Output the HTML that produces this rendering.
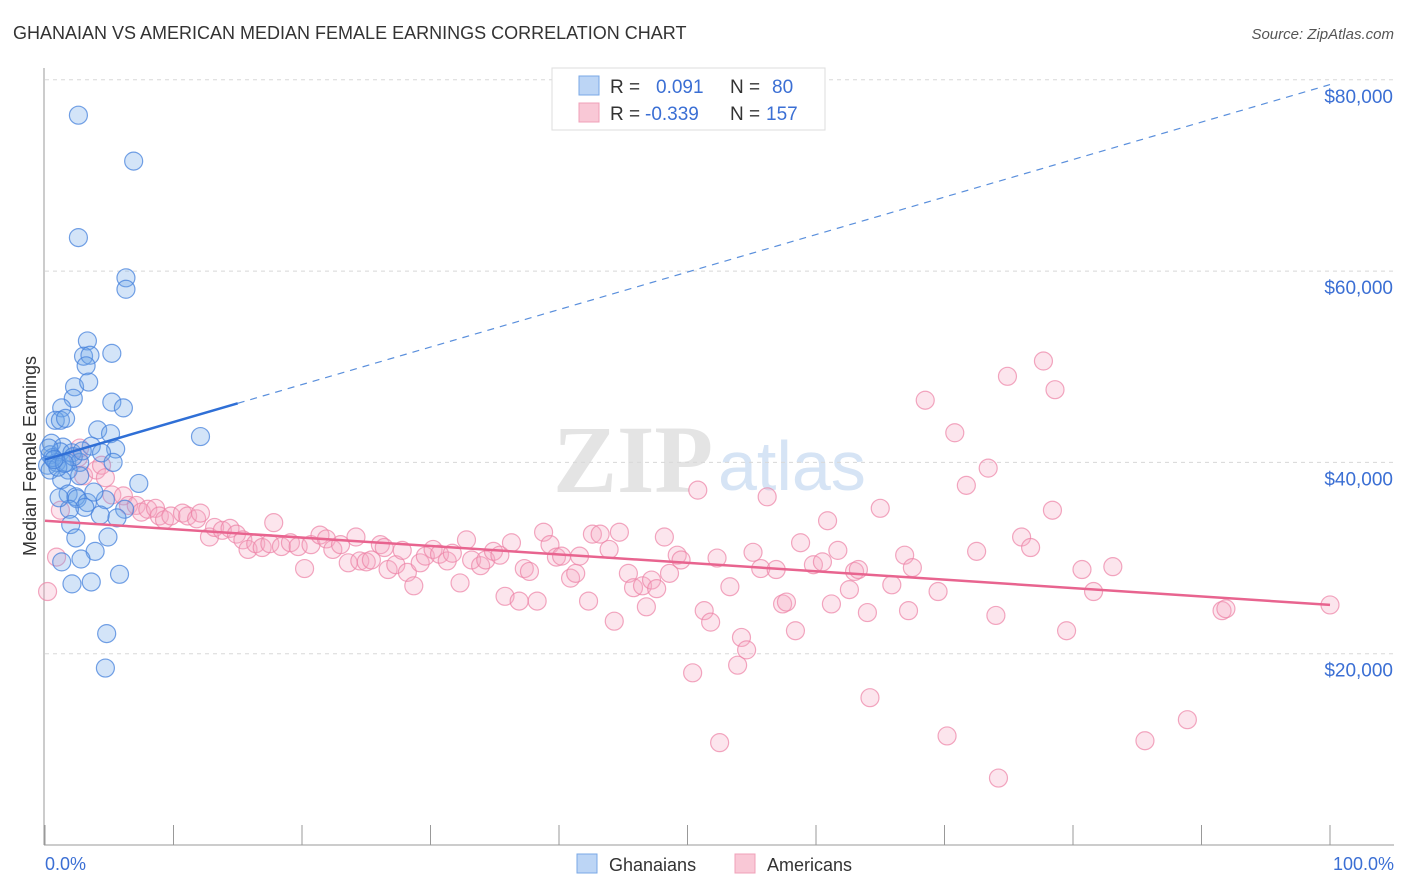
<!DOCTYPE html>
<html><head><meta charset="utf-8">
<style>
body{margin:0;background:#fff;font-family:"Liberation Sans",sans-serif;}
svg{display:block}
</style></head>
<body>
<svg id="chart" width="1406" height="892">
<text x="13" y="39" font-size="18" fill="#333">GHANAIAN VS AMERICAN MEDIAN FEMALE EARNINGS CORRELATION CHART</text>
<text x="1394" y="39" font-size="15" fill="#555" font-style="italic" text-anchor="end">Source: ZipAtlas.com</text>
<g>
<text x="553" y="492" font-size="96" fill="#e4e4e4" font-family="Liberation Serif,serif" font-weight="bold">ZIP</text>
<text x="718" y="490" font-size="70" fill="#d6e4f5">atlas</text>
</g>
<g id="grid"></g>
<g id="axes"></g>
<g id="pinkpts"></g>
<g id="bluepts"></g>
<g id="lines"></g>
<text x="36" y="456" font-size="18" fill="#333" text-anchor="middle" transform="rotate(-90 36 456)">Median Female Earnings</text>
<text x="45" y="870" font-size="18" fill="#3b6fd4">0.0%</text>
<text x="1394" y="870" font-size="18" fill="#3b6fd4" text-anchor="end">100.0%</text>
<g>
<rect x="552" y="68" width="273" height="62" fill="#fff" stroke="#ddd"/>
<rect x="579" y="76" width="20" height="19" fill="#bcd5f5" stroke="#7aa8e6"/>
<rect x="579" y="103" width="20" height="19" fill="#f9c8d6" stroke="#f0a0b8"/>
<text x="610" y="93" font-size="19" fill="#333">R =</text>
<text x="656" y="93" font-size="19" fill="#3b6fd4">0.091</text>
<text x="730" y="93" font-size="19" fill="#333">N =</text>
<text x="772" y="93" font-size="19" fill="#3b6fd4">80</text>
<text x="610" y="120" font-size="19" fill="#333">R =</text>
<text x="645" y="120" font-size="19" fill="#3b6fd4">-0.339</text>
<text x="730" y="120" font-size="19" fill="#333">N =</text>
<text x="766" y="120" font-size="19" fill="#3b6fd4">157</text>
</g>
<g>
<rect x="577" y="854" width="20" height="19" fill="#bcd5f5" stroke="#7aa8e6"/>
<text x="609" y="871" font-size="18" fill="#333">Ghanaians</text>
<rect x="735" y="854" width="20" height="19" fill="#f9c8d6" stroke="#f0a0b8"/>
<text x="767" y="871" font-size="18" fill="#333">Americans</text>
</g>
</svg>
<script>
const yTicks=[20000,40000,60000,80000];
const yTickLabels=["$20,000","$40,000","$60,000","$80,000"];
const xTicks=[0,10,20,30,40,50,60,70,80,90,100];
const blueX=[2.6,6.9,2.6,6.3,6.3,3.3,3.0,3.5,5.2,3.2,2.3,3.4,2.2,1.3,5.2,6.1,0.8,1.2,1.6,4.1,5.1,12.1,0.5,1.4,3.6,5.5,0.4,1.2,2.1,4.4,0.2,0.9,1.7,2.7,5.3,0.4,1.8,1.3,2.7,7.3,1.8,2.4,4.7,2.5,3.3,3.1,6.2,1.9,4.3,5.6,2.0,4.9,2.4,3.9,2.8,1.3,2.1,3.6,5.8,4.8,4.7,0.6,1.0,2.2,0.3,1.5,2.9,0.7,3.8,1.1];
const blueY=[76.3,71.5,63.5,59.3,58.1,52.7,51.1,51.2,51.4,50.1,47.9,48.4,46.7,45.7,46.3,45.7,44.4,44.4,44.6,43.4,43.0,42.7,42.0,41.6,41.7,41.4,40.8,41.1,41.0,41.0,39.7,40.0,40.0,40.0,40.0,39.2,39.2,38.2,38.6,37.8,36.7,36.4,36.1,36.2,35.8,35.3,35.1,35.1,34.5,34.2,33.5,32.2,32.1,30.7,29.9,29.6,27.3,27.5,28.3,22.1,18.5,40.5,39.5,40.6,41.5,39.9,41.2,40.3,36.9,36.3];
const pinkX=[0.2,0.9,1.2,2.6,2.7,3.0,4.0,4.4,4.7,5.2,6.1,6.5,7.1,7.5,8.0,8.6,8.9,9.3,9.8,10.7,11.1,11.8,12.1,12.8,13.2,13.8,14.4,14.9,15.4,15.8,16.4,16.9,17.5,17.8,18.4,19.1,19.7,20.2,20.7,21.4,21.9,22.4,23.0,23.6,24.2,24.5,25.0,25.4,26.1,26.4,26.7,27.3,27.8,28.2,28.7,29.2,29.6,30.2,30.7,31.3,31.7,32.3,32.8,33.2,33.9,34.3,34.9,35.4,35.8,36.3,36.9,37.3,37.7,38.3,38.8,39.3,39.8,40.2,40.9,41.3,41.6,42.3,42.6,43.2,43.9,44.3,44.7,45.4,45.8,46.5,46.8,47.2,47.6,48.2,48.6,49.2,49.5,50.4,50.8,51.3,51.8,52.3,52.5,53.3,53.9,54.2,54.6,55.1,55.7,56.2,56.9,57.4,57.7,58.4,58.8,59.8,60.5,60.9,61.2,61.7,62.6,63.0,63.3,64.0,64.2,65.0,65.9,66.9,67.2,67.5,68.5,69.5,70.2,70.8,71.7,72.5,73.4,74.0,74.2,74.9,76.0,76.7,77.7,78.4,78.6,79.5,80.7,81.6,83.1,85.6,88.9,91.6,91.9,100];
const pinkY=[26.5,30.1,35.0,40.5,41.5,38.6,39.2,39.7,38.4,36.6,36.5,35.5,35.5,34.8,35.1,35.2,34.4,34.0,34.4,34.7,34.4,34.1,34.7,32.2,33.2,32.9,33.1,32.5,31.9,30.9,31.5,31.1,31.5,33.7,31.2,31.6,31.2,28.9,31.4,32.4,32.0,30.9,31.4,29.5,32.2,29.7,29.6,29.8,31.4,31.1,28.8,29.3,30.8,28.5,27.1,29.5,30.2,30.9,30.4,29.7,30.5,27.4,31.9,29.8,29.2,29.8,30.7,30.3,26.0,31.6,25.5,28.9,28.6,25.5,32.7,31.4,30.1,30.2,27.9,28.4,30.2,25.5,32.5,32.5,30.9,23.4,32.7,28.4,26.9,27.1,24.9,27.7,26.8,32.2,28.4,30.3,29.8,18.0,37.1,24.5,23.3,30.0,10.7,27.0,18.8,21.7,20.4,30.6,28.9,36.4,28.8,25.2,25.4,22.4,31.6,29.3,29.6,33.9,25.2,30.8,26.7,28.6,28.8,24.3,15.4,35.2,27.2,30.3,24.5,29.0,46.5,26.5,11.4,43.1,37.6,30.7,39.4,24.0,7.0,49.0,32.2,31.1,50.6,35.0,47.6,22.4,28.8,26.5,29.1,10.9,13.1,24.5,24.7,25.1];
const blueTrend=[40.3,79.5];
const pinkTrend=[33.9,25.1];
const blueSolidEnd=15;

const X0=45,X1=1330,Y0=845,PX20K=191.3;
function xs(p){return X0+(X1-X0)*p/100;}
function ys(v){return Y0-v*PX20K/20000;}
const NS="http://www.w3.org/2000/svg";
function mk(tag,attrs,parent){const e=document.createElementNS(NS,tag);for(const k in attrs)e.setAttribute(k,attrs[k]);parent.appendChild(e);return e;}
const grid=document.getElementById('grid'),axes=document.getElementById('axes');
yTicks.forEach((t,i)=>{
  const l=mk('line',{x1:45,x2:1394,y1:ys(t),y2:ys(t),stroke:'#d8d8d8','stroke-dasharray':'4,4'},grid);
  
  
  const tx=mk('text',{x:1393,y:ys(t)+23,'font-size':19,fill:'#3b6fd4','text-anchor':'end'},grid);
  tx.textContent=yTickLabels[i];
  
  
});
const ya=mk('line',{x1:44,x2:44,y1:68,y2:845,stroke:'#999'},axes);


const xa=mk('line',{x1:44,x2:1394,y1:845,y2:845,stroke:'#999'},axes);


xTicks.forEach(t=>{
  const l=mk('line',{x1:xs(t),x2:xs(t),y1:825,y2:845,stroke:'#999'},axes);
  
  
});
const pg=document.getElementById('pinkpts');
pinkX.forEach((x,i)=>{
  const c=mk('circle',{cx:xs(x),cy:ys(pinkY[i]*1000),r:9,fill:'rgba(246,168,194,0.3)',stroke:'rgba(236,130,165,0.7)','stroke-width':1.2},pg);
  
  
});
const bg=document.getElementById('bluepts');
blueX.forEach((x,i)=>{
  const c=mk('circle',{cx:xs(x),cy:ys(blueY[i]*1000),r:9,fill:'rgba(110,165,232,0.3)',stroke:'rgba(70,130,220,0.75)','stroke-width':1.2},bg);
  
  
});
const lg=document.getElementById('lines');
function tv(tr,p){return tr[0]+(tr[1]-tr[0])*p/100;}
const bs=mk('line',{x1:xs(0),y1:ys(tv(blueTrend,0)*1000),x2:xs(blueSolidEnd),y2:ys(tv(blueTrend,blueSolidEnd)*1000),stroke:'#2f6fd6','stroke-width':2.5},lg);


const bd=mk('line',{x1:xs(blueSolidEnd),y1:ys(tv(blueTrend,blueSolidEnd)*1000),x2:xs(100),y2:ys(tv(blueTrend,100)*1000),stroke:'#5a8fdc','stroke-width':1.2,'stroke-dasharray':'7,6'},lg);


const pl=mk('line',{x1:xs(0),y1:ys(pinkTrend[0]*1000),x2:xs(100),y2:ys(pinkTrend[1]*1000),stroke:'#e8648f','stroke-width':2.5},lg);


</script>
</body></html>
